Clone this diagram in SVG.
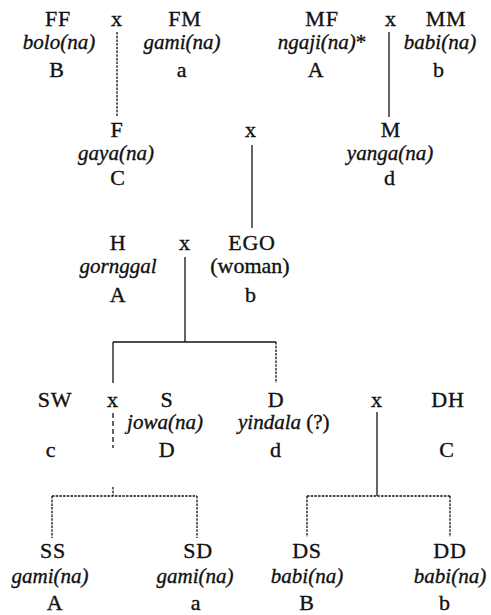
<svg xmlns="http://www.w3.org/2000/svg" width="491" height="615" viewBox="0 0 491 615">
  <style>
    text { font-family: "Liberation Serif", "Times New Roman", serif; font-size: 22px; fill: #111; stroke: #111; stroke-width: 0.35; text-anchor: middle; letter-spacing: 0.8px; }
    .t { font-style: italic; font-size: 21px; letter-spacing: 0; }
    .r { font-style: normal; }
    .ln { stroke: #111; stroke-width: 1.3; fill: none; }
    .ds { stroke-dasharray: 2.5 1.2; }
    .dl { stroke-dasharray: 5 3; }
  </style>
  <rect width="491" height="615" fill="#fff"/>

  <!-- descent lines -->
  <g id="connectors">
    <line class="ln ds" x1="117" y1="32" x2="117" y2="117"/>
    <line class="ln" x1="389" y1="32" x2="389" y2="117"/>
    <line class="ln" x1="252" y1="145" x2="252" y2="228"/>
    <line class="ln" x1="185" y1="257" x2="185" y2="342"/>
    <line class="ln" x1="113" y1="342" x2="276" y2="342"/>
    <line class="ln" x1="113" y1="342" x2="113" y2="383"/>
    <line class="ln ds" x1="276" y1="342" x2="276" y2="383"/>
    <line class="ln dl" x1="113" y1="413" x2="113" y2="448"/>
    <line class="ln ds" x1="113" y1="487" x2="113" y2="496"/>
    <line class="ln ds" x1="52" y1="496" x2="197" y2="496"/>
    <line class="ln ds" x1="52" y1="496" x2="52" y2="538"/>
    <line class="ln ds" x1="197" y1="496" x2="197" y2="538"/>
    <line class="ln" x1="377" y1="412" x2="377" y2="496"/>
    <line class="ln ds" x1="307" y1="496" x2="450" y2="496"/>
    <line class="ln ds" x1="307" y1="496" x2="307" y2="537"/>
    <line class="ln ds" x1="450" y1="496" x2="450" y2="537"/>
  </g>

  <!-- marriage marks -->
  <g id="marriages">
    <text x="117" y="26">x</text>
    <text x="391" y="26">x</text>
    <text x="251" y="137">x</text>
    <text x="185" y="250">x</text>
    <text x="113" y="407">x</text>
    <text x="377" y="407">x</text>
  </g>

  <g id="FF"><text x="58" y="26">FF</text><text class="t" x="59" y="49">bolo(na)</text><text x="57" y="77">B</text></g>
  <g id="FM"><text x="185" y="26">FM</text><text class="t" x="182" y="49">gami(na)</text><text x="182" y="77">a</text></g>
  <g id="MF"><text x="322" y="26">MF</text><text class="t" x="322" y="49">ngaji(na)<tspan class="r">*</tspan></text><text x="316" y="77">A</text></g>
  <g id="MM"><text x="446" y="26">MM</text><text class="t" x="440" y="49">babi(na)</text><text x="439" y="77">b</text></g>

  <g id="F"><text x="117" y="137">F</text><text class="t" x="116" y="160">gaya(na)</text><text x="118" y="185">C</text></g>
  <g id="M"><text x="391" y="137">M</text><text class="t" x="390" y="160">yanga(na)</text><text x="390" y="185">d</text></g>

  <g id="H"><text x="118" y="250">H</text><text class="t" x="118" y="273">gornggal</text><text x="118" y="302">A</text></g>
  <g id="EGO"><text x="252" y="250">EGO</text><text x="250" y="273" style="letter-spacing:0">(woman)</text><text x="251" y="302">b</text></g>

  <g id="SW"><text x="55" y="407">SW</text><text x="51" y="457">c</text></g>
  <g id="S"><text x="167" y="407">S</text><text class="t" x="165" y="429">jowa(na)</text><text x="167" y="457">D</text></g>
  <g id="D"><text x="276" y="407">D</text><text class="t" x="238" y="429" style="text-anchor:start">yindala <tspan class="r">(?)</tspan></text><text x="276" y="457">d</text></g>
  <g id="DH"><text x="448" y="407">DH</text><text x="447" y="457">C</text></g>

  <g id="SS"><text x="53" y="558">SS</text><text class="t" x="50" y="583">gami(na)</text><text x="55" y="610">A</text></g>
  <g id="SD"><text x="198" y="558">SD</text><text class="t" x="195" y="583">gami(na)</text><text x="196" y="610">a</text></g>
  <g id="DS"><text x="307" y="558">DS</text><text class="t" x="307" y="583">babi(na)</text><text x="307" y="610">B</text></g>
  <g id="DD"><text x="450" y="558">DD</text><text class="t" x="450" y="583">babi(na)</text><text x="445" y="610">b</text></g>
</svg>
